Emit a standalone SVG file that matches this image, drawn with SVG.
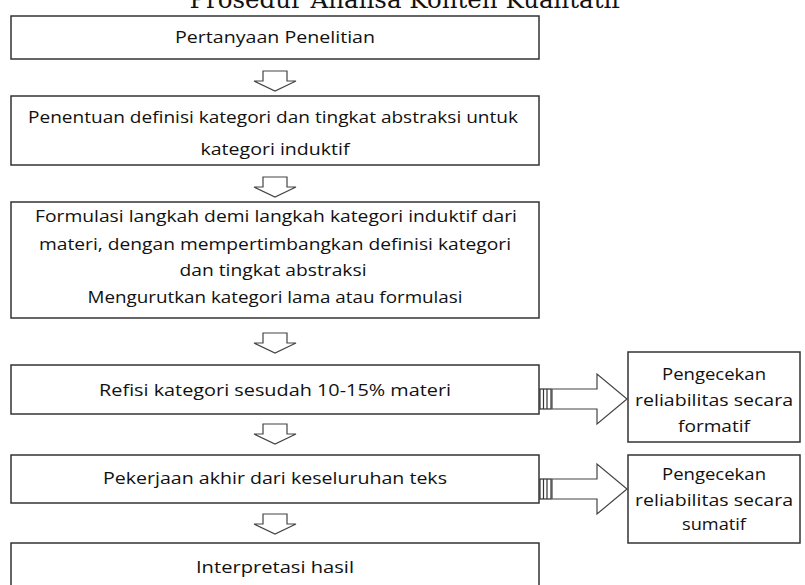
<svg xmlns="http://www.w3.org/2000/svg" width="805" height="585" viewBox="0 0 805 585">
<defs>
<style>
.box{fill:#fff;stroke:#333;stroke-width:1.5}
.t{font-family:"Open Sans","Noto Sans",sans-serif;font-size:17px;fill:#111;text-anchor:middle}
.title{font-family:"DejaVu Serif","Liberation Serif",serif;font-size:24.5px;fill:#111;text-anchor:middle}
.arr{fill:#fff;stroke:#444;stroke-width:1.2;stroke-linejoin:miter}
.tail{fill:#fff;stroke:#333;stroke-width:1.2}
</style>
<symbol id="down" overflow="visible">
<path class="arr" d="M-12,0 H12 V10 H21 L0,20 L-21,10 H-12 Z"/>
</symbol>
</defs>
<rect width="805" height="585" fill="#fff"/>
<text class="title" x="405" y="8">Prosedur Analisa Konten Kualitatif</text>

<g id="n1"><rect class="box" x="11" y="16" width="528" height="43"/><text class="t" x="275" y="43" textLength="200" lengthAdjust="spacingAndGlyphs">Pertanyaan Penelitian</text></g>
<g id="n2"><rect class="box" x="11" y="96" width="528" height="69"/><text class="t" x="273" y="123" textLength="490" lengthAdjust="spacingAndGlyphs">Penentuan definisi kategori dan tingkat abstraksi untuk</text><text class="t" x="275" y="155" textLength="149" lengthAdjust="spacingAndGlyphs">kategori induktif</text></g>
<g id="n3"><rect class="box" x="11" y="202" width="528" height="116"/><text class="t" x="276" y="222" textLength="482" lengthAdjust="spacingAndGlyphs">Formulasi langkah demi langkah kategori induktif dari</text><text class="t" x="275" y="250" textLength="472" lengthAdjust="spacingAndGlyphs">materi, dengan mempertimbangkan definisi kategori</text><text class="t" x="273" y="276" textLength="187" lengthAdjust="spacingAndGlyphs">dan tingkat abstraksi</text><text class="t" x="275" y="303" textLength="375" lengthAdjust="spacingAndGlyphs">Mengurutkan kategori lama atau formulasi</text></g>
<g id="n4"><rect class="box" x="11" y="365" width="528" height="49"/><text class="t" x="275" y="396" textLength="352" lengthAdjust="spacingAndGlyphs">Refisi kategori sesudah 10-15% materi</text></g>
<g id="n5"><rect class="box" x="11" y="455" width="528" height="48"/><text class="t" x="275" y="484" textLength="344" lengthAdjust="spacingAndGlyphs">Pekerjaan akhir dari keseluruhan teks</text></g>
<g id="n6"><rect class="box" x="11" y="543" width="528" height="50"/><text class="t" x="275" y="573" textLength="158" lengthAdjust="spacingAndGlyphs">Interpretasi hasil</text></g>
<g id="r1"><rect class="box" x="628" y="352" width="172" height="90"/><text class="t" x="714" y="380" textLength="104" lengthAdjust="spacingAndGlyphs">Pengecekan</text><text class="t" x="714" y="406" textLength="158" lengthAdjust="spacingAndGlyphs">reliabilitas secara</text><text class="t" x="714" y="432" textLength="72" lengthAdjust="spacingAndGlyphs">formatif</text></g>
<g id="r2"><rect class="box" x="628" y="455" width="172" height="88"/><text class="t" x="714" y="480" textLength="104" lengthAdjust="spacingAndGlyphs">Pengecekan</text><text class="t" x="714" y="506" textLength="158" lengthAdjust="spacingAndGlyphs">reliabilitas secara</text><text class="t" x="714" y="530" textLength="64" lengthAdjust="spacingAndGlyphs">sumatif</text></g>

<g id="connectors">
<use href="#down" x="275" y="71"/>
<use href="#down" x="275" y="177"/>
<use href="#down" x="275" y="333"/>
<use href="#down" x="275" y="424"/>
<use href="#down" x="275" y="514"/>
<g>
<rect class="tail" x="540" y="389" width="11" height="20"/>
<line x1="543.5" y1="389" x2="543.5" y2="409" stroke="#333" stroke-width="1.2"/>
<line x1="547" y1="389" x2="547" y2="409" stroke="#333" stroke-width="1.2"/>
<path class="arr" d="M552,389 H597 V374 L627,399 L597,424 V409 H552 Z"/>
</g>
<g>
<rect class="tail" x="540" y="479" width="11" height="20"/>
<line x1="543.5" y1="479" x2="543.5" y2="499" stroke="#333" stroke-width="1.2"/>
<line x1="547" y1="479" x2="547" y2="499" stroke="#333" stroke-width="1.2"/>
<path class="arr" d="M552,479 H597 V464 L627,489 L597,514 V499 H552 Z"/>
</g>
</g>
</svg>
